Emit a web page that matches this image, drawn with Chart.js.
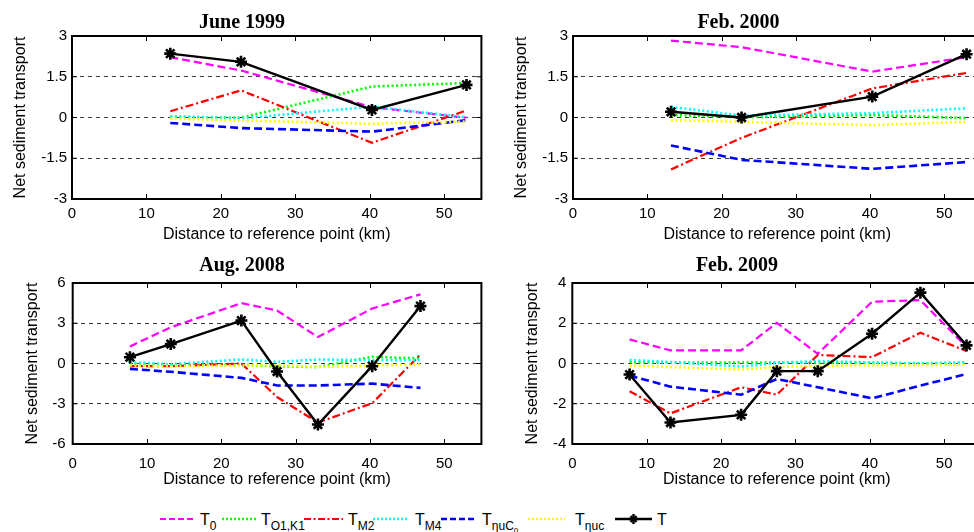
<!DOCTYPE html>
<html><head><meta charset="utf-8">
<script src="https://cdn.jsdelivr.net/npm/chart.js@4.4.1/dist/chart.umd.min.js"></script>
<style>
html,body{margin:0;padding:0;background:#fff;}
body{width:974px;height:532px;overflow:hidden;position:relative;font-family:"Liberation Sans",Arial,sans-serif;color:#000;}
canvas{position:absolute;}
#c1{left:0;top:0}
#c2{left:490px;top:0}
#c3{left:0;top:250px}
#c4{left:490px;top:250px}
.sw{position:absolute;top:513px;height:12px;}
.lt{position:absolute;top:512px;font-size:16px;line-height:16px;white-space:nowrap;}
.s{font-size:12px;position:relative;top:5px;}
.ss{font-size:8px;position:relative;top:3px;}
</style>
</head><body>
<canvas id="c1" width="490" height="250"></canvas>
<canvas id="c2" width="500" height="250"></canvas>
<canvas id="c3" width="490" height="250"></canvas>
<canvas id="c4" width="500" height="250"></canvas>

<svg class="sw" style="left:160px" width="36" height="12"><line x1="0" y1="6" x2="36" y2="6" stroke="#ff00ff" stroke-width="2.2" stroke-dasharray="6,3"/></svg>
<span class="lt" style="left:200px">T<span class="s">0</span></span>
<svg class="sw" style="left:222px" width="34" height="12"><line x1="0" y1="6" x2="34" y2="6" stroke="#00ff00" stroke-width="2.4" stroke-dasharray="2,2"/></svg>
<span class="lt" style="left:261px">T<span class="s">O1,K1</span></span>
<svg class="sw" style="left:304px" width="39" height="12"><line x1="0" y1="6" x2="39" y2="6" stroke="#ff0000" stroke-width="2.2" stroke-dasharray="7,2.5,2,2.5"/></svg>
<span class="lt" style="left:348px">T<span class="s">M2</span></span>
<svg class="sw" style="left:373px" width="36" height="12"><line x1="0" y1="6" x2="36" y2="6" stroke="#00ffff" stroke-width="2.4" stroke-dasharray="2,2"/></svg>
<span class="lt" style="left:415px">T<span class="s">M4</span></span>
<svg class="sw" style="left:441px" width="36" height="12"><line x1="0" y1="6" x2="36" y2="6" stroke="#0000ff" stroke-width="2.4" stroke-dasharray="6,3"/></svg>
<span class="lt" style="left:482px">T<span class="s">ηuC<span class="ss">0</span></span></span>
<svg class="sw" style="left:528px" width="37" height="12"><line x1="0" y1="6" x2="37" y2="6" stroke="#ffff00" stroke-width="2.4" stroke-dasharray="2,2"/></svg>
<span class="lt" style="left:575px">T<span class="s">ηuc</span></span>
<svg class="sw" style="left:615px" width="37" height="12"><line x1="0" y1="6" x2="37" y2="6" stroke="#000" stroke-width="2.5"/><g stroke="#000" stroke-width="2.4"><line x1="18.5" y1="1" x2="18.5" y2="11"/><line x1="13.5" y1="6" x2="23.5" y2="6"/><line x1="15.5" y1="3" x2="21.5" y2="9"/><line x1="15.5" y1="9" x2="21.5" y2="3"/></g></svg>
<span class="lt" style="left:657px">T</span>

<script>
// ---- tick labels ----
const xTicks = [0, 10, 20, 30, 40, 50];
const yTicks1999 = [-3, -1.5, 0, 1.5, 3];
const yTicks2000 = [-3, -1.5, 0, 1.5, 3];
const yTicks2008 = [-6, -3, 0, 3, 6];
const yTicks2009 = [-4, -2, 0, 2, 4];

// ---- station distances (km) ----
const x1999 = [13.2, 22.7, 40.3, 53.0];
const x2000 = [13.2, 22.7, 40.3, 53.0];
const x2008 = [7.7, 13.2, 22.7, 27.5, 33.0, 40.3, 46.8];
const x2009 = [7.7, 13.2, 22.7, 27.5, 33.0, 40.3, 46.8, 53.0];

// ---- June 1999 ----
const T0_1999   = [2.22, 1.73, 0.38, -0.01];
const TO1_1999  = [0.03, -0.01, 1.14, 1.27];
const TM2_1999  = [0.23, 1.00, -0.93, 0.26];
const TM4_1999  = [0.04, -0.03, 0.40, 0.01];
const TC0_1999  = [-0.20, -0.39, -0.52, -0.10];
const Tuc_1999  = [-0.04, -0.11, -0.23, -0.15];
const T_1999    = [2.35, 2.05, 0.28, 1.20];

// ---- Feb. 2000 ----
const T0_2000   = [2.83, 2.59, 1.69, 2.22];
const TO1_2000  = [0.09, 0.01, 0.09, -0.02];
const TM2_2000  = [-1.91, -0.75, 1.07, 1.64];
const TM4_2000  = [0.39, 0.07, 0.16, 0.34];
const TC0_2000  = [-1.03, -1.56, -1.89, -1.64];
const Tuc_2000  = [-0.10, -0.16, -0.28, -0.16];
const T_2000    = [0.21, 0.00, 0.77, 2.33];

// ---- Aug. 2008 ----
const T0_2008   = [1.27, 2.70, 4.50, 3.95, 1.97, 4.10, 5.15];
const TO1_2008  = [0.00, -0.10, -0.10, -0.20, -0.27, 0.50, 0.38];
const TM2_2008  = [-0.20, -0.20, 0.00, -2.50, -4.40, -2.96, 0.67];
const TM4_2008  = [0.10, -0.05, 0.30, 0.12, 0.30, 0.25, 0.25];
const TC0_2008  = [-0.40, -0.62, -1.07, -1.64, -1.64, -1.50, -1.82];
const Tuc_2008  = [-0.15, -0.20, -0.15, -0.12, -0.25, -0.15, -0.07];
const T_2008    = [0.47, 1.45, 3.20, -0.60, -4.55, -0.20, 4.28];

// ---- Feb. 2009 ----
const T0_2009   = [1.20, 0.65, 0.65, 2.02, 0.48, 3.07, 3.15, 0.82];
const TO1_2009  = [0.07, 0.05, 0.05, 0.05, 0.05, 0.03, 0.00, 0.00];
const TM2_2009  = [-1.38, -2.48, -1.18, -1.55, 0.42, 0.32, 1.53, 0.62];
const TM4_2009  = [0.18, 0.07, -0.15, 0.03, 0.12, 0.05, 0.00, 0.07];
const TC0_2009  = [-0.60, -1.15, -1.55, -0.77, -1.18, -1.73, -1.10, -0.52];
const Tuc_2009  = [-0.10, -0.18, -0.30, -0.18, -0.12, -0.08, -0.08, -0.05];
const T_2009    = [-0.55, -2.93, -2.55, -0.38, -0.38, 1.48, 3.52, 0.90];

const seriesNames = ['T0', 'TO1,K1', 'TM2', 'TM4', 'TηuC0', 'Tηuc', 'T'];

// ---- styles ----
const styles = [
  {color:'#ff00ff', dash:[8,4],       width:2.2, order:6},
  {color:'#00ff00', dash:[2,2.5],     width:2.6, order:5},
  {color:'#ff0000', dash:[8,3,2,3],   width:2.2, order:4},
  {color:'#00ffff', dash:[2,2.5],     width:2.6, order:3},
  {color:'#0000ff', dash:[8,4],       width:2.6, order:2},
  {color:'#ffff00', dash:[2,2.5],     width:2.6, order:1},
  {color:'#000000', dash:[],          width:2.4, order:0, marker:true}
];

const boxPlugin = {
  id: 'matlabBox',
  afterDraw(chart) {
    const {ctx, chartArea: a, scales: {x, y}} = chart;
    ctx.save();
    ctx.setLineDash([]);
    ctx.strokeStyle = '#000';
    ctx.lineWidth = 1;
    const L = 5;
    ctx.beginPath();
    x.ticks.forEach(t => {
      if (t.value <= x.min || t.value >= x.max) return;
      const px = Math.round(x.getPixelForValue(t.value)) + 0.5;
      ctx.moveTo(px, a.bottom); ctx.lineTo(px, a.bottom - L);
      ctx.moveTo(px, a.top); ctx.lineTo(px, a.top + L);
    });
    y.ticks.forEach(t => {
      if (t.value <= y.min || t.value >= y.max) return;
      const py = y.getPixelForValue(t.value);
      ctx.moveTo(a.left, py); ctx.lineTo(a.left + L, py);
      ctx.moveTo(a.right, py); ctx.lineTo(a.right - L, py);
    });
    ctx.stroke();
    ctx.lineWidth = 2;
    ctx.strokeRect(a.left, a.top, a.right - a.left, a.bottom - a.top);
    ctx.restore();
  }
};

function makeChart(id, p) {
  const datasets = p.series.map((vals, i) => {
    const st = styles[i];
    return {
      label: seriesNames[i],
      data: vals.map((v, k) => ({x: p.xs[k], y: v})),
      borderColor: st.color,
      backgroundColor: st.color,
      borderWidth: st.width,
      borderDash: st.dash,
      fill: false,
      tension: 0,
      order: st.order,
      pointStyle: st.marker ? 'star' : 'circle',
      pointRadius: st.marker ? 6 : 0,
      pointBorderWidth: st.marker ? 2.6 : 0,
      pointBorderColor: '#000',
      pointBackgroundColor: '#000'
    };
  });
  return new Chart(document.getElementById(id), {
    type: 'line',
    data: {datasets},
    plugins: [boxPlugin],
    options: {
      responsive: false,
      animation: false,
      devicePixelRatio: 1,
      layout: {padding: {left: 0, right: p.padRight, top: 0, bottom: 0}},
      plugins: {
        legend: {display: false},
        tooltip: {enabled: false},
        title: {
          display: true, text: p.title, color: '#000',
          font: {family: '"Liberation Serif", "Times New Roman", serif', weight: 'bold', size: 20, lineHeight: 1.2},
          padding: {top: p.titleTop, bottom: p.titleBottom}
        }
      },
      scales: {
        x: {
          type: 'linear', min: 0, max: 55,
          afterBuildTicks: s => { s.ticks = xTicks.map(v => ({value: v})); },
          afterFit: s => { s.height = p.xHeight; },
          grid: {display: false, drawTicks: false},
          border: {display: false},
          ticks: {color: '#000', padding: p.xTickPad, font: {family: '"Liberation Sans", Arial, sans-serif', size: 15}, callback: v => String(v), maxRotation: 0},
          title: {display: true, text: 'Distance to reference point (km)', color: '#000',
                  font: {family: '"Liberation Sans", Arial, sans-serif', size: 16, lineHeight: 1.2},
                  padding: {top: 0, bottom: p.xTitleBottom}}
        },
        y: {
          type: 'linear', min: p.yTicks[0], max: p.yTicks[p.yTicks.length - 1],
          afterBuildTicks: s => { s.ticks = p.yTicks.map(v => ({value: v})); },
          afterFit: s => { s.width = p.yWidth; },
          grid: {
            drawTicks: false, lineWidth: 1,
            color: c => (c.tick && (c.tick.value === p.yTicks[0] || c.tick.value === p.yTicks[p.yTicks.length - 1])) ? 'rgba(0,0,0,0)' : '#3a3a3a'
          },
          border: {display: false, dash: [4, 4]},
          ticks: {color: '#000', padding: p.yTickPad, font: {family: '"Liberation Sans", Arial, sans-serif', size: 15}, callback: v => String(v)},
          title: {display: true, text: 'Net sediment transport', color: '#000',
                  font: {family: '"Liberation Sans", Arial, sans-serif', size: 16, lineHeight: 1.2},
                  padding: {top: p.yTitleTop, bottom: 0}}
        }
      }
    }
  });
}

makeChart('c1', {title: 'June 1999', xs: x1999, yTicks: yTicks1999,
  series: [T0_1999, TO1_1999, TM2_1999, TM4_1999, TC0_1999, Tuc_1999, T_1999],
  padRight: 6, titleTop: 10.5, titleBottom: 1.5, xHeight: 51, xTickPad: 6, xTitleBottom: 5.4,
  yWidth: 72, yTickPad: 5, yTitleTop: 11.4});
makeChart('c2', {title: 'Feb. 2000', xs: x2000, yTicks: yTicks2000,
  series: [T0_2000, TO1_2000, TM2_2000, TM4_2000, TC0_2000, Tuc_2000, T_2000],
  padRight: 3, titleTop: 10.5, titleBottom: 1.5, xHeight: 51, xTickPad: 6, xTitleBottom: 5.4,
  yWidth: 83, yTickPad: 5, yTitleTop: 22});
makeChart('c3', {title: 'Aug. 2008', xs: x2008, yTicks: yTicks2008,
  series: [T0_2008, TO1_2008, TM2_2008, TM4_2008, TC0_2008, Tuc_2008, T_2008],
  padRight: 6, titleTop: 3.5, titleBottom: 5.5, xHeight: 56, xTickPad: 10.5, xTitleBottom: 10.4,
  yWidth: 72.7, yTickPad: 7, yTitleTop: 23.4});
makeChart('c4', {title: 'Feb. 2009', xs: x2009, yTicks: yTicks2009,
  series: [T0_2009, TO1_2009, TM2_2009, TM4_2009, TC0_2009, Tuc_2009, T_2009],
  padRight: 6, titleTop: 3.5, titleBottom: 5.5, xHeight: 56, xTickPad: 10.5, xTitleBottom: 10.4,
  yWidth: 82.3, yTickPad: 6, yTitleTop: 33.1});
</script>
</body></html>
